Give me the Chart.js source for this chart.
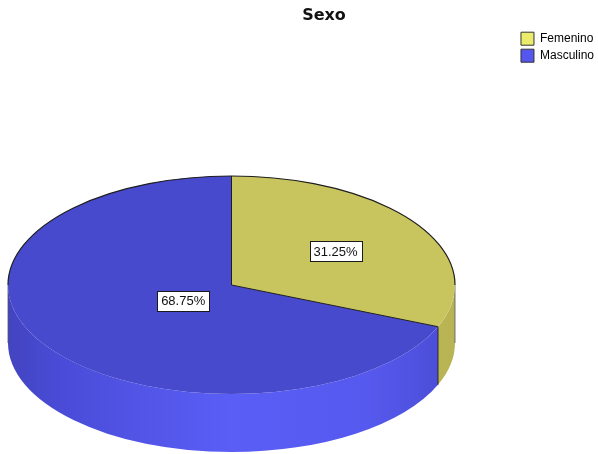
<!DOCTYPE html>
<html>
<head>
<meta charset="utf-8">
<title>Sexo</title>
<script src="https://cdn.jsdelivr.net/npm/chart.js@4.4.1/dist/chart.umd.min.js"></script>
<style>
    body { margin: 0; background: #ffffff; }
    canvas { display: block; }
</style>
</head>
<body>
<canvas id="sexo" width="598" height="454"></canvas>
<script>
const categorias = ['Femenino', 'Masculino'];
const porcentajes = [31.25, 68.75];
const coloresCara = ['#c9c55e', '#484acd'];
const coloresLeyenda = ['#ecec6c', '#5456ee'];

// pie "3D": centro, radios de la elipse y grosor del costado
const vista = { cx: 231.5, cy: 285, rx: 223.5, ry: 109, depth: 58 };
const posEtiqueta = [0.56, 0.26];

function gradienteCostado(ctx, i) {
    const g = ctx.createLinearGradient(vista.cx - vista.rx, 0, vista.cx + vista.rx, 0);
    if (i === 0) {
        g.addColorStop(0, '#b4b050');
        g.addColorStop(0.6, '#c8c460');
        g.addColorStop(1, '#b8b454');
    } else {
        g.addColorStop(0, '#4244c0');
        g.addColorStop(0.12, '#4a4cd8');
        g.addColorStop(0.5, '#5a5ef6');
        g.addColorStop(0.8, '#5659ee');
        g.addColorStop(1, '#4a4cd4');
    }
    return g;
}

// partes del arco que caen en la mitad frontal (0..PI)
function tramosFrontales(a1, a2) {
    const tramos = [];
    for (let k = -1; k <= 1; k++) {
        const lo = Math.max(a1, k * 2 * Math.PI);
        const hi = Math.min(a2, k * 2 * Math.PI + Math.PI);
        if (hi > lo) tramos.push([lo, hi]);
    }
    return tramos;
}

const pie3d = {
    id: 'pie3d',
    beforeDatasetsDraw(chart) {
        const ctx = chart.ctx;
        const arcs = chart.getDatasetMeta(0).data;
        const { cx, cy, rx, ry, depth } = vista;

        // costados
        arcs.forEach((arc, i) => {
            tramosFrontales(arc.startAngle, arc.endAngle).forEach(([a1, a2]) => {
                ctx.beginPath();
                ctx.ellipse(cx, cy, rx, ry, 0, a1, a2);
                ctx.ellipse(cx, cy + depth, rx, ry, 0, a2, a1, true);
                ctx.closePath();
                ctx.fillStyle = gradienteCostado(ctx, i);
                ctx.fill();
            });
        });

        // bordes verticales
        ctx.strokeStyle = '#2a2a2a';
        ctx.lineWidth = 1;
        arcs.forEach(arc => {
            let a = arc.endAngle % (2 * Math.PI);
            if (a > 0 && a < Math.PI) {
                const x = cx + rx * Math.cos(a), y = cy + ry * Math.sin(a);
                ctx.beginPath();
                ctx.moveTo(x, y);
                ctx.lineTo(x, y + depth);
                ctx.stroke();
            }
        });
        ctx.lineWidth = 0.8;
        ctx.strokeStyle = '#555';
        ctx.beginPath();
        ctx.moveTo(cx + rx, cy);
        ctx.lineTo(cx + rx, cy + depth);
        ctx.moveTo(cx - rx, cy);
        ctx.lineTo(cx - rx, cy + depth);
        ctx.stroke();

        // cara superior: se aplasta el pie de Chart.js sobre la elipse
        const el = arcs[0];
        const R = el.outerRadius;
        ctx.save();
        ctx.translate(cx, cy);
        ctx.scale(rx / R, ry / R);
        ctx.translate(-el.x, -el.y);
    },
    afterDatasetsDraw(chart) {
        const ctx = chart.ctx;
        ctx.restore();
        const arcs = chart.getDatasetMeta(0).data;
        const { cx, cy, rx, ry } = vista;

        // contorno trasero y radios
        ctx.strokeStyle = '#1e1e1e';
        ctx.lineWidth = 1.2;
        ctx.beginPath();
        ctx.ellipse(cx, cy, rx, ry, 0, Math.PI, 2 * Math.PI);
        ctx.stroke();
        ctx.lineWidth = 1;
        arcs.forEach(arc => {
            ctx.beginPath();
            ctx.moveTo(cx, cy);
            ctx.lineTo(cx + rx * Math.cos(arc.startAngle), cy + ry * Math.sin(arc.startAngle));
            ctx.stroke();
        });

        // etiquetas
        ctx.font = '13px "Liberation Sans", Arial, sans-serif';
        ctx.textAlign = 'center';
        ctx.textBaseline = 'middle';
        arcs.forEach((arc, i) => {
            const mid = (arc.startAngle + arc.endAngle) / 2;
            const x = cx + rx * posEtiqueta[i] * Math.cos(mid);
            const y = cy + ry * posEtiqueta[i] * Math.sin(mid);
            const texto = porcentajes[i].toFixed(2) + '%';
            const w = ctx.measureText(texto).width + 8;
            const h = 20;
            ctx.fillStyle = '#ffffff';
            ctx.fillRect(Math.round(x - w / 2) + 0.5, Math.round(y - h / 2) + 0.5, Math.round(w), h);
            ctx.strokeStyle = '#1a1a1a';
            ctx.lineWidth = 1;
            ctx.strokeRect(Math.round(x - w / 2) + 0.5, Math.round(y - h / 2) + 0.5, Math.round(w), h);
            ctx.fillStyle = '#111';
            ctx.fillText(texto, x, y + 1);
        });
    }
};

const ctx = document.getElementById('sexo').getContext('2d');
const chart = new Chart(ctx, {
    type: 'pie',
    data: {
        labels: categorias,
        datasets: [{
            data: porcentajes,
            backgroundColor: coloresCara,
            borderWidth: 0,
            clip: false
        }]
    },
    options: {
        responsive: false,
        animation: false,
        events: [],
        layout: { padding: { left: 44, right: -6, top: 0, bottom: 0 } },
        plugins: {
            title: {
                display: true,
                text: 'Sexo',
                color: '#111',
                font: { family: 'DejaVu Sans', size: 16, weight: 'bold' },
                padding: { top: 6, bottom: 3 }
            },
            legend: {
                position: 'right',
                align: 'start',
                fullSize: false,
                labels: {
                    boxWidth: 13,
                    boxHeight: 13,
                    padding: 4,
                    color: '#000',
                    font: { family: 'Liberation Sans', size: 12 },
                    generateLabels: () => categorias.map((c, i) => ({
                        text: c,
                        fillStyle: coloresLeyenda[i],
                        strokeStyle: '#333',
                        lineWidth: 1,
                        fontColor: '#000',
                        hidden: false,
                        index: i
                    }))
                }
            },
            tooltip: { enabled: false }
        }
    },
    plugins: [pie3d]
});
</script>
</body>
</html>
